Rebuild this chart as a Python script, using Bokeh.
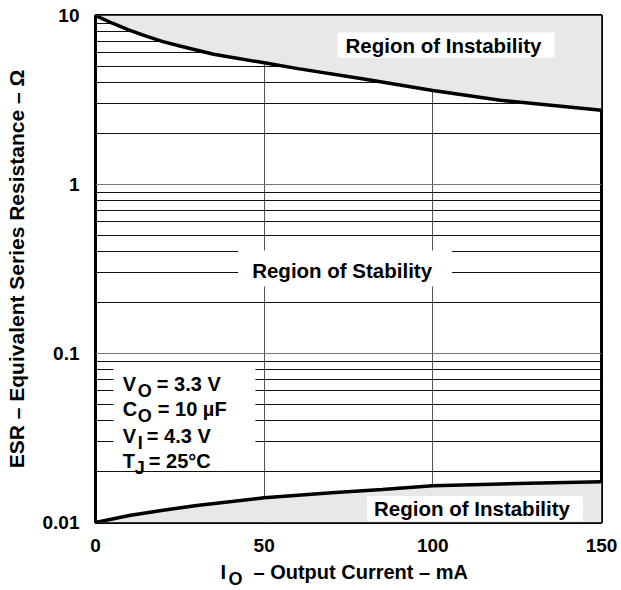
import math
from bokeh.plotting import figure
from bokeh.layouts import column
from bokeh.models import (FixedTicker, CustomJSTickFormatter, Label, BoxAnnotation, Range1d)
from bokeh.embed import file_html
from bokeh.resources import INLINE

# ---------------- data ----------------
X_TICKS = [0, 50, 100, 150]
X_TICK_LABELS = ["0", "50", "100", "150"]
Y_TICKS = [0.01, 0.1, 1, 10]
Y_TICK_LABELS = ["0.01", "0.1", "1", "10"]

# upper stability boundary (ESR max) vs output current
CURRENT_UPPER = [0, 5, 10, 15, 20, 25, 35, 50, 60, 80, 100, 120, 150]
ESR_UPPER = [10, 9.0, 8.2, 7.55, 7.0, 6.6, 5.9, 5.25, 4.85, 4.2, 3.6, 3.15, 2.75]

# lower stability boundary (ESR min) vs output current
CURRENT_LOWER = [0, 5, 10, 20, 30, 50, 70, 85, 100, 125, 150]
ESR_LOWER = [0.01, 0.0105, 0.0110, 0.0118, 0.0126, 0.0140, 0.0150, 0.0157, 0.0165, 0.0170, 0.0174]

CONDITIONS = [("V", "O", "= 3.3 V"), ("C", "O", "= 10 \u00b5F"), ("V", "I", "= 4.3 V"), ("T", "J", "= 25\u00b0C")]
X_TITLE = ("I", "O", "\u2013 Output Current \u2013 mA")
Y_TITLE = "ESR \u2013 Equivalent Series Resistance \u2013 \u03a9"

X_MIN, X_MAX = 0, 150
Y_MIN, Y_MAX = 0.01, 10

# ---------------- styling / layout ----------------
FONT = "Liberation Sans"
FILL = "#e8e8e8"

p = figure(width=621, height=556,
           x_range=Range1d(X_MIN, X_MAX), y_range=Range1d(Y_MIN, Y_MAX),
           y_axis_type="log", output_backend="svg", toolbar_location=None,
           min_border_left=95, min_border_right=20, min_border_top=15, min_border_bottom=34)
p.background_fill_color = "white"
p.border_fill_color = "white"
p.outline_line_color = "black"
p.outline_line_width = 3

# axes
xt = FixedTicker(ticks=X_TICKS)
p.xaxis.ticker = xt
p.xgrid.ticker = xt
p.xaxis.major_label_overrides = {t: l for t, l in zip(X_TICKS, X_TICK_LABELS)}

minor = [m * 10 ** k for k in range(-2, 1) for m in range(2, 10)]
yt = FixedTicker(ticks=Y_TICKS, minor_ticks=minor)
p.yaxis.ticker = yt
p.ygrid.ticker = yt
p.yaxis.formatter = CustomJSTickFormatter(
    args=dict(vals=Y_TICKS, labs=Y_TICK_LABELS),
    code="for (let i = 0; i < vals.length; i++) { if (Math.abs(Math.log10(tick / vals[i])) < 1e-6) return labs[i]; } return '';")

for ax in (p.xaxis, p.yaxis):
    ax.axis_line_color = None
    ax.major_tick_line_color = None
    ax.minor_tick_line_color = None
    ax.major_label_text_font = FONT
    ax.major_label_text_font_style = "bold"
    ax.major_label_text_font_size = "19px"
    ax.major_label_text_color = "black"
    ax.major_label_standoff = 10

p.yaxis.axis_label = Y_TITLE
p.yaxis.axis_label_text_font = FONT
p.yaxis.axis_label_text_font_style = "bold"
p.yaxis.axis_label_text_font_size = "21px"
p.yaxis.axis_label_text_color = "black"
p.yaxis.axis_label_standoff = 12

p.xgrid.grid_line_color = "#555555"
p.xgrid.grid_line_width = 1
p.ygrid.grid_line_color = "#777777"
p.ygrid.grid_line_width = 1
p.ygrid.minor_grid_line_color = "#111111"
p.ygrid.minor_grid_line_width = 1

# unstable regions
p.varea(x=CURRENT_UPPER, y1=ESR_UPPER, y2=[Y_MAX] * len(CURRENT_UPPER), color=FILL)
p.varea(x=CURRENT_LOWER, y1=[Y_MIN] * len(CURRENT_LOWER), y2=ESR_LOWER, color=FILL)
p.line(CURRENT_UPPER, ESR_UPPER, line_color="black", line_width=3.5)
p.line(CURRENT_LOWER, ESR_LOWER, line_color="black", line_width=3.5)


def lab(fig, text, x, y, size="20px", align="left", baseline="alphabetic", xo=0, yo=0, **kw):
    l = Label(x=x, y=y, text=text, x_offset=xo, y_offset=yo,
              text_font=FONT, text_font_style="bold", text_font_size=size,
              text_color="black", text_align=align, text_baseline=baseline, **kw)
    fig.add_layout(l)
    return l


# region labels
lab(p, "Region of Instability", 103.9, 6.68, size="20.5px", align="center", baseline="middle",
    background_fill_color="white", padding=dict(left=8, right=13, top=1, bottom=1))
lab(p, "Region of Stability", 74.0, 0.318, size="20.5px", align="center", baseline="middle",
    background_fill_color="white", padding=dict(left=14, right=20, top=8, bottom=5))
lab(p, "Region of Instability", 112.5, 0.0121, size="20.5px", align="center", baseline="middle",
    background_fill_color="white", padding=dict(left=7, right=13, top=1, bottom=1))

# conditions box
p.add_layout(BoxAnnotation(left=5.34, right=47.4, bottom=0.0203, top=0.0861,
                           fill_color="white", fill_alpha=1, line_color=None))
cond_y = [0.0662, 0.0471, 0.0327, 0.0230]
sub_dx = [15, 15, 15, 12]
rest_dx = [34, 35, 24, 26]
for (main, sub, rest), yy, sdx, rdx in zip(CONDITIONS, cond_y, sub_dx, rest_dx):
    lab(p, main, 8.1, yy)
    lab(p, sub, 8.1, yy, size="18px", xo=sdx, yo=-7)
    lab(p, rest, 8.1, yy, xo=rdx)

# x-axis title strip (shares the x range so it lines up with the frame)
pt = figure(width=621, height=34, x_range=p.x_range, y_range=Range1d(0, 34),
            output_backend="svg", toolbar_location=None,
            min_border_left=95, min_border_right=20, min_border_top=0, min_border_bottom=0)
pt.axis.visible = False
pt.grid.visible = False
pt.outline_line_color = None
pt.background_fill_color = "white"
pt.border_fill_color = "white"
lab(pt, X_TITLE[0], X_MIN, 19, xo=125)
lab(pt, X_TITLE[1], X_MIN, 12, size="18px", xo=133)
lab(pt, X_TITLE[2], X_MIN, 19, xo=158)

layout = column(p, pt, spacing=0)
open("out.html", "w").write(file_html(layout, INLINE))
